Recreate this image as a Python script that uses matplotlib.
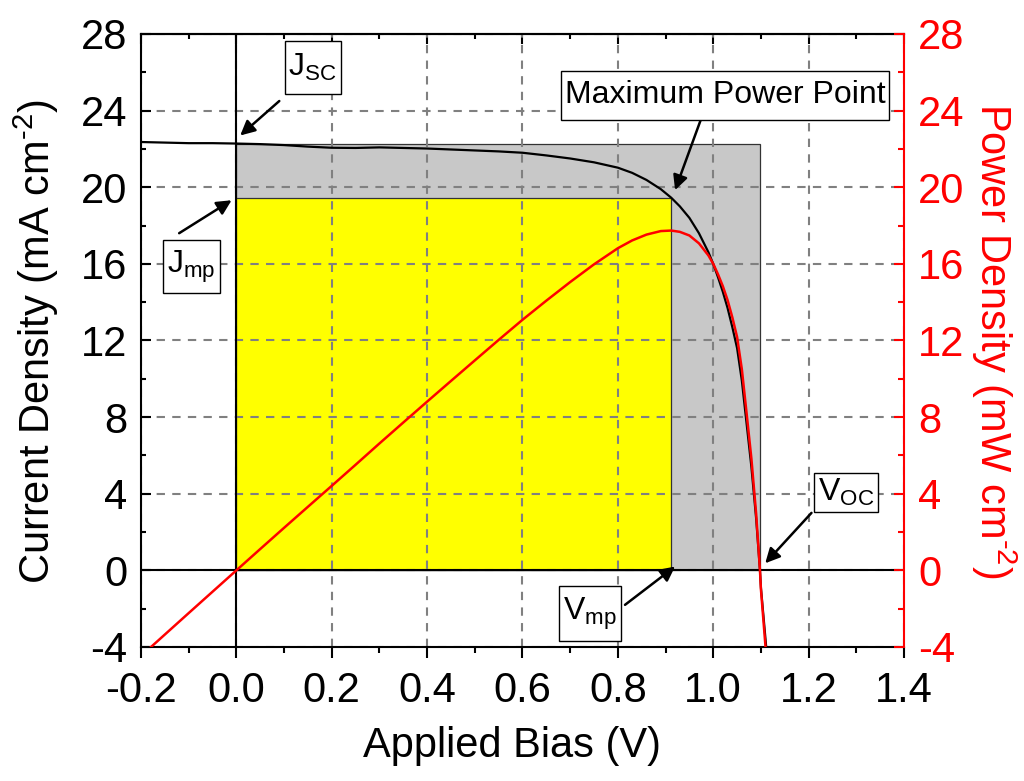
import matplotlib
matplotlib.use("Agg")
import matplotlib.pyplot as plt
from matplotlib.patches import Rectangle
from matplotlib.ticker import MultipleLocator

plt.rcParams["font.family"] = ["Liberation Sans", "DejaVu Sans"]
plt.rcParams["mathtext.fontset"] = "custom"
plt.rcParams["mathtext.rm"] = "Liberation Sans"
plt.rcParams["mathtext.it"] = "Liberation Sans:italic"
plt.rcParams["mathtext.bf"] = "Liberation Sans:bold"
plt.rcParams["axes.unicode_minus"] = False

# Measured J-V sweep of the cell (V, mA cm^-2) and its power density (mW cm^-2)
bias = [-0.20, -0.15, -0.10, -0.05, 0.00, 0.05, 0.10, 0.15, 0.20, 0.25,
        0.30, 0.35, 0.40, 0.45, 0.50, 0.55, 0.60, 0.65, 0.70, 0.75,
        0.80, 0.83, 0.86, 0.89, 0.912, 0.93, 0.95, 0.97, 0.99, 1.00,
        1.01, 1.02, 1.03, 1.04, 1.05, 1.06, 1.07, 1.08, 1.09, 1.098,
        1.10, 1.105, 1.11, 1.115]
current = [22.36, 22.33, 22.30, 22.30, 22.28, 22.25, 22.20, 22.12, 22.06, 22.05,
           22.08, 22.05, 22.02, 21.97, 21.92, 21.87, 21.80, 21.66, 21.50, 21.30,
           21.02, 20.75, 20.38, 19.90, 19.45, 19.00, 18.40, 17.60, 16.60, 16.00,
           15.30, 14.55, 13.70, 12.70, 11.60, 9.90, 7.65, 5.40, 2.70, 0.00,
           -0.90, -2.30, -3.70, -5.10]
power = [-4.472, -3.350, -2.230, -1.115, 0.000, 1.113, 2.220, 3.318, 4.412, 5.513,
         6.624, 7.718, 8.808, 9.887, 10.960, 12.029, 13.080, 14.079, 15.050, 15.975,
         16.816, 17.223, 17.527, 17.711, 17.738, 17.670, 17.480, 17.072, 16.434, 16.000,
         15.453, 14.841, 14.111, 13.208, 12.180, 10.494, 8.186, 5.832, 2.943, 0.000,
         -0.990, -2.542, -4.107, -5.687]

# Key operating points
j_sc = 22.28
v_oc = 1.098
j_mp = 19.45
v_mp = 0.912

x_ticks = [-0.2, 0.0, 0.2, 0.4, 0.6, 0.8, 1.0, 1.2, 1.4]
y_ticks = [-4, 0, 4, 8, 12, 16, 20, 24, 28]

fig = plt.figure(figsize=(10.24, 7.81), dpi=100)
ax = fig.add_axes([0.1377, 0.1716, 0.7451, 0.7849])

ax.set_xlim(-0.2, 1.4)
ax.set_ylim(-4, 28)

# Fill-factor rectangles
ax.add_patch(Rectangle((0, 0), v_oc, j_sc, facecolor="#c8c8c8",
                       edgecolor="#333333", lw=0.9, zorder=1))
ax.add_patch(Rectangle((0, 0), v_mp, j_mp, facecolor="#ffff00",
                       edgecolor="#333333", lw=0.9, zorder=1.1))

ax.grid(True, which="major", color="#808080", linestyle=(0, (4, 3.5)),
        linewidth=1.5, zorder=1.5)
ax.axhline(0, color="black", lw=1.5, zorder=2)
ax.axvline(0, color="black", lw=1.5, zorder=2)

ax.plot(bias, current, color="black", lw=1.6, zorder=3)
ax.plot(bias, power, color="red", lw=1.8, zorder=4)

ax.set_xticks(x_ticks)
ax.set_yticks(y_ticks)
ax.set_xticklabels([f"{t:.1f}" for t in x_ticks])
ax.set_yticklabels([str(t) for t in y_ticks])
ax.xaxis.set_minor_locator(MultipleLocator(0.1))
ax.yaxis.set_minor_locator(MultipleLocator(2))

for s in ("left", "top", "bottom"):
    ax.spines[s].set_linewidth(1.5)
ax.spines["right"].set_visible(False)

ax.tick_params(axis="x", which="both", bottom=True, top=False, direction="out",
               width=1.5, labelsize=30, pad=9)
ax.tick_params(axis="x", which="major", length=8)
ax.tick_params(axis="x", which="minor", length=4.5)
ax.tick_params(axis="y", which="both", left=True, right=False, direction="in",
               width=1.5, labelsize=30, pad=10)
ax.tick_params(axis="y", which="major", length=7)
ax.tick_params(axis="y", which="minor", length=3.5)

# Inward ticks along the top edge
top = ax.secondary_xaxis("top")
top.set_xticks(x_ticks)
top.xaxis.set_minor_locator(MultipleLocator(0.1))
top.tick_params(axis="x", which="both", direction="in", width=1.5, labeltop=False)
top.tick_params(axis="x", which="major", length=7)
top.tick_params(axis="x", which="minor", length=3.5)
top.spines["top"].set_linewidth(1.5)

# Right-hand power axis
ax2 = ax.twinx()
ax2.set_ylim(-4, 28)
ax2.set_yticks(y_ticks)
ax2.set_yticklabels([str(t) for t in y_ticks])
ax2.yaxis.set_minor_locator(MultipleLocator(2))
for s in ("left", "top", "bottom"):
    ax2.spines[s].set_visible(False)
ax2.spines["right"].set_color("red")
ax2.spines["right"].set_linewidth(1.5)
ax2.tick_params(axis="y", which="both", direction="in", color="red",
                labelcolor="red", width=1.5, labelsize=30, pad=10)
ax2.tick_params(axis="y", which="major", length=7)
ax2.tick_params(axis="y", which="minor", length=4)

# Axis titles
fig.text(512 / 1024, 1 - 746 / 781, "Applied Bias (V)", fontsize=30,
         ha="center", va="center")
fig.text(36 / 1024, 1 - 342 / 781, r"Current Density (mA cm$^{\text{-}2}$)",
         fontsize=30, rotation=90, ha="center", va="center")
fig.text(994 / 1024, 1 - 341 / 781, r"Power Density (mW cm$^{\text{-}2}$)",
         fontsize=30, rotation=270, ha="center", va="center", color="red")

# Callouts: text, text centre, arrow tail, arrow head, box height stretch
arrow = dict(arrowstyle="-|>", color="black", lw=1.8, mutation_scale=22,
             shrinkA=0, shrinkB=0)
labels = [
    (r"$\mathregular{J_{SC}}$", (0.160, 26.25), (0.090, 24.5), (0.008, 22.7), 2.9),
    (r"$\mathregular{J_{mp}}$", (-0.094, 15.85), (-0.120, 17.6), (-0.010, 19.32), 2.2),
    ("Maximum Power Point", (1.025, 24.8), (0.975, 23.6), (0.920, 19.85), 2.5),
    (r"$\mathregular{V_{OC}}$", (1.279, 4.05), (1.206, 3.0), (1.109, 0.37), 1.0),
    (r"$\mathregular{V_{mp}}$", (0.742, -2.25), (0.815, -1.8), (0.920, 0.2), 2.4),
]
for text, pos, tail, head, stretch in labels:
    ax.annotate("", xy=head, xytext=tail, arrowprops=arrow, zorder=6)
    ax.text(pos[0], pos[1], text, fontsize=23, ha="center", va="center",
            bbox=dict(boxstyle="square,pad=0.12", facecolor="white",
                      edgecolor="black", lw=1, mutation_aspect=stretch),
            zorder=7)

fig.savefig("out.png", dpi=100)
